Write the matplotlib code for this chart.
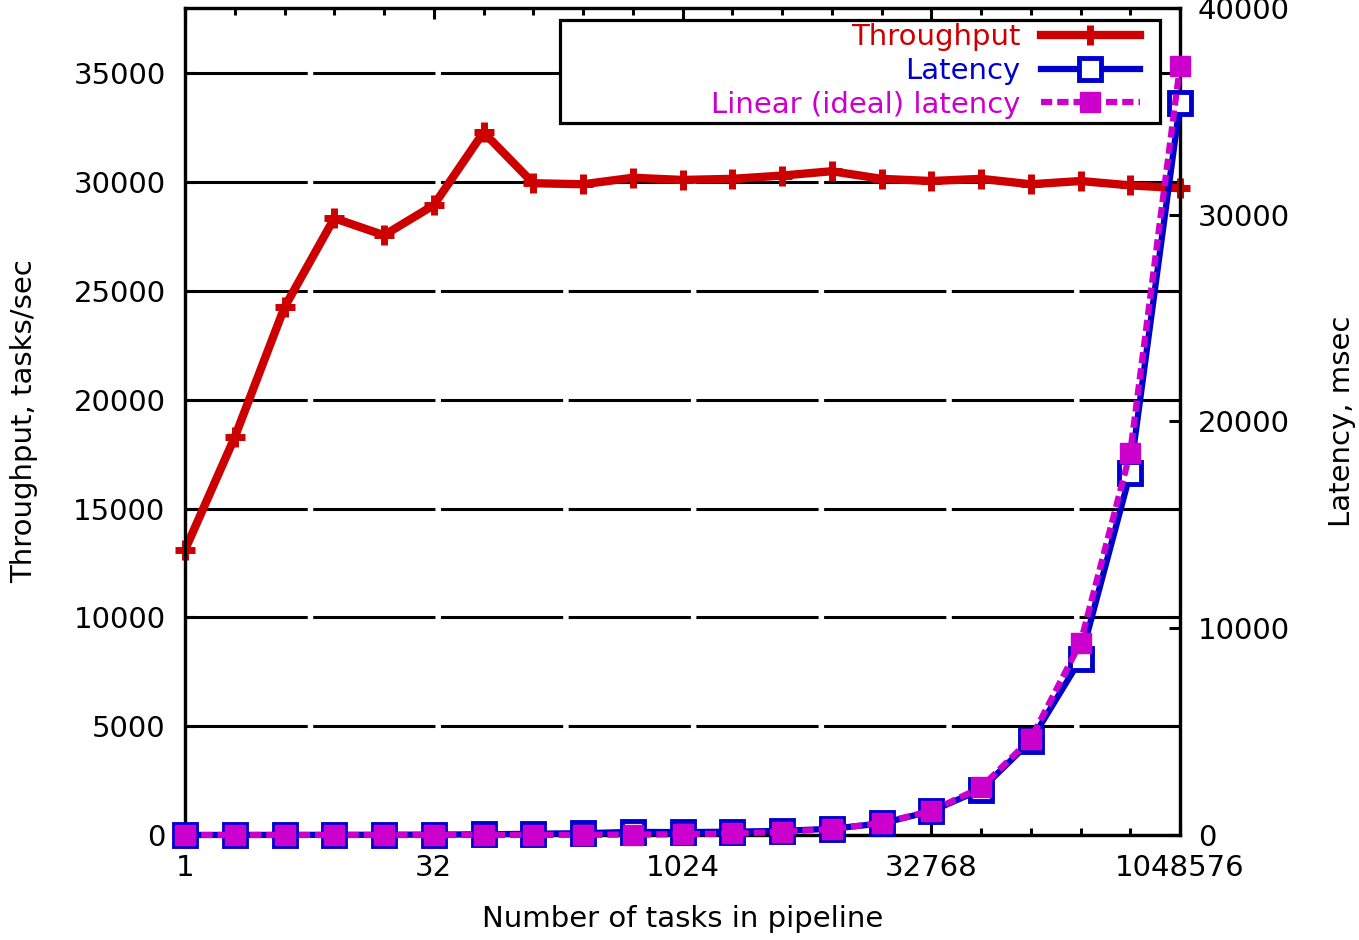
import matplotlib
matplotlib.use('Agg')
import matplotlib.pyplot as plt
from matplotlib.ticker import FixedLocator, NullFormatter
from matplotlib.patches import Rectangle

# data
tasks = [1, 2, 4, 8, 16, 32, 64, 128, 256, 512, 1024, 2048, 4096, 8192,
         16384, 32768, 65536, 131072, 262144, 524288, 1048576]
throughput = [13100, 18280, 24250, 28340, 27560, 28940, 32290, 29950, 29900,
              30200, 30100, 30150, 30300, 30500, 30150, 30050, 30150, 29900,
              30050, 29850, 29720]
latency = [2, 3, 5, 8, 12, 20, 35, 60, 90, 150, 140, 160, 200, 300, 560,
           1150, 2200, 4550, 8500, 17500, 35400]
ideal_latency = [0.035, 0.07, 0.14, 0.28, 0.57, 1.1, 2.3, 4.5, 9, 18, 36, 73,
                 145, 290, 580, 1160, 2300, 4650, 9300, 18500, 37200]

major_ticks = [1, 32, 1024, 32768, 1048576]
major_labels = ['1', '32', '1024', '32768', '1048576']

RED = '#cc0000'
BLUE = '#0000cc'
MAG = '#cc00cc'
FS = 21

plt.rcParams['font.family'] = 'DejaVu Sans'
fig = plt.figure(figsize=(13.59, 9.40), dpi=100)
ax = fig.add_axes([185/1359, 1-835/940, 995/1359, 827/940])
ax2 = ax.twinx()

ax.set_xscale('log', base=2)
ax.set_xlim(1, 1048576)
ax.set_ylim(0, 38000)
ax2.set_ylim(0, 40000)

ax.xaxis.set_major_locator(FixedLocator(major_ticks))
ax.set_xticklabels(major_labels)
ax.xaxis.set_minor_locator(FixedLocator(tasks))
ax.xaxis.set_minor_formatter(NullFormatter())
ax.set_yticks(range(0, 36000, 5000))
ax2.set_yticks(range(0, 41000, 10000))

ax.yaxis.grid(True, color='black', lw=2.2, linestyle=(0, (40, 1.8)), zorder=0)
ax.set_axisbelow(True)

for a in (ax, ax2):
    for s in a.spines.values():
        s.set_linewidth(2.3)
ax.tick_params(axis='both', which='major', direction='in', length=8, width=2.2,
               labelsize=FS, top=True, right=True, pad=14)
ax.tick_params(axis='x', which='minor', direction='in', length=5, width=2.2,
               top=True)
ax2.tick_params(axis='y', which='major', direction='in', length=8, width=2.2,
                labelsize=FS, pad=13)

l1, = ax.plot(tasks, throughput, color=RED, lw=6, marker='+', ms=15, mew=5,
              zorder=3, clip_on=False)
l2, = ax2.plot(tasks, latency, color=BLUE, lw=4.5, marker='s', ms=16, mew=3.5,
               mfc='white', mec=BLUE, zorder=3, clip_on=False)
l3, = ax2.plot(tasks, ideal_latency, color=MAG, lw=4.5, linestyle=(0, (1.8, 0.8)),
               marker='s', ms=15, mfc=MAG, mec=MAG, zorder=4, clip_on=False)

ax.set_xlabel('Number of tasks in pipeline', fontsize=FS)
ax.xaxis.set_label_coords(0.5, -(905-835)/827)
ax.set_ylabel('Throughput, tasks/sec', fontsize=FS)
ax.yaxis.set_label_coords(-(185-38)/995, 0.5)
ax2.set_ylabel('Latency, msec', fontsize=FS)
ax2.yaxis.set_label_coords((1328-185)/995, 0.5)

# legend box (gnuplot style: wide frame, right-justified text)
box = Rectangle(((560-185)/995, (835-123)/827), (1160-560)/995, (123-20)/827,
                transform=ax2.transAxes, facecolor='white', edgecolor='black',
                lw=2.3, zorder=5)
ax2.add_patch(box)
leg = ax2.legend([l1, l2, l3], ['Throughput', 'Latency', 'Linear (ideal) latency'],
                 loc='upper right', bbox_to_anchor=((1140-185)/995, (835-23)/827),
                 frameon=False, markerfirst=False, fontsize=FS, labelspacing=0.2,
                 handlelength=3.4, handletextpad=0.7, borderpad=0,
                 borderaxespad=0, labelcolor='linecolor', numpoints=1)
leg.set_zorder(6)

fig.savefig('out.png', dpi=100)
